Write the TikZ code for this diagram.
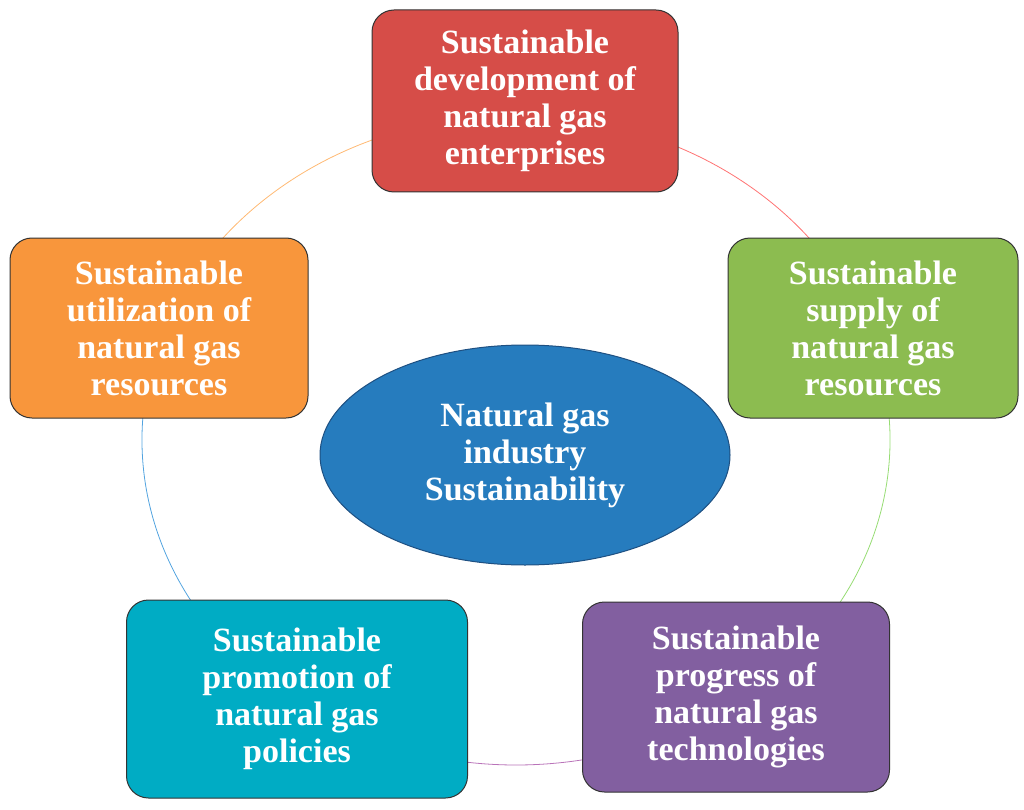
\documentclass[tikz,border=0pt]{standalone}
\usepackage{fontspec}
\setmainfont{Liberation Serif}
\usetikzlibrary{shapes.geometric}
\begin{document}
\begin{tikzpicture}[x=1pt,y=-1pt,
  box/.style={draw=black!80,line width=1pt,rounded corners=22pt,minimum width=#1,align=center,
    text=white,font=\bfseries\fontsize{34}{37}\selectfont,inner sep=0pt},
  arcline/.style={line width=0.8pt}]
\useasboundingbox (0,0) rectangle (1024,810);
\coordinate (c) at (516,440);
\def\rx{374}\def\ry{325}
\draw[arcline,red!55] (c) ++(-90:{\rx} and {\ry}) arc[start angle=-90,end angle=-18,x radius=\rx,y radius=\ry];
\draw[arcline,green!50!olive!55] (c) ++(-18:{\rx} and {\ry}) arc[start angle=-18,end angle=54,x radius=\rx,y radius=\ry];
\draw[arcline,violet!55] (c) ++(54:{\rx} and {\ry}) arc[start angle=54,end angle=126,x radius=\rx,y radius=\ry];
\draw[arcline,cyan!70!blue!70] (c) ++(126:{\rx} and {\ry}) arc[start angle=126,end angle=198,x radius=\rx,y radius=\ry];
\draw[arcline,orange!55] (c) ++(198:{\rx} and {\ry}) arc[start angle=198,end angle=270,x radius=\rx,y radius=\ry];
\node[box=306pt,minimum height=182pt,fill={rgb,255:red,214;green,77;blue,72}] (red) at (525,101)
  {Sustainable\\development of\\natural gas\\enterprises};
\node[box=290pt,minimum height=180pt,fill={rgb,255:red,140;green,188;blue,80}] (green) at (873,328)
  {Sustainable\\supply of\\natural gas\\resources};
\node[box=307pt,minimum height=190pt,fill={rgb,255:red,130;green,95;blue,160}] (purple) at (736,697)
  {Sustainable\\progress of\\natural gas\\technologies};
\node[box=341pt,minimum height=198pt,fill={rgb,255:red,0;green,172;blue,196}] (cyan) at (297,699)
  {Sustainable\\promotion of\\natural gas\\policies};
\node[box=298pt,minimum height=180pt,fill={rgb,255:red,248;green,150;blue,60}] (orange) at (159,328)
  {Sustainable\\utilization of\\natural gas\\resources};
\node[ellipse,draw={rgb,255:red,30;green,80;blue,130},line width=1pt,minimum width=410pt,minimum height=220pt,
  fill={rgb,255:red,38;green,124;blue,190},text=white,align=center,inner sep=0pt,
  font=\bfseries\fontsize{34}{37}\selectfont] (hub) at (525,455)
  {Natural gas\\industry\\Sustainability};
\end{tikzpicture}
\end{document}
